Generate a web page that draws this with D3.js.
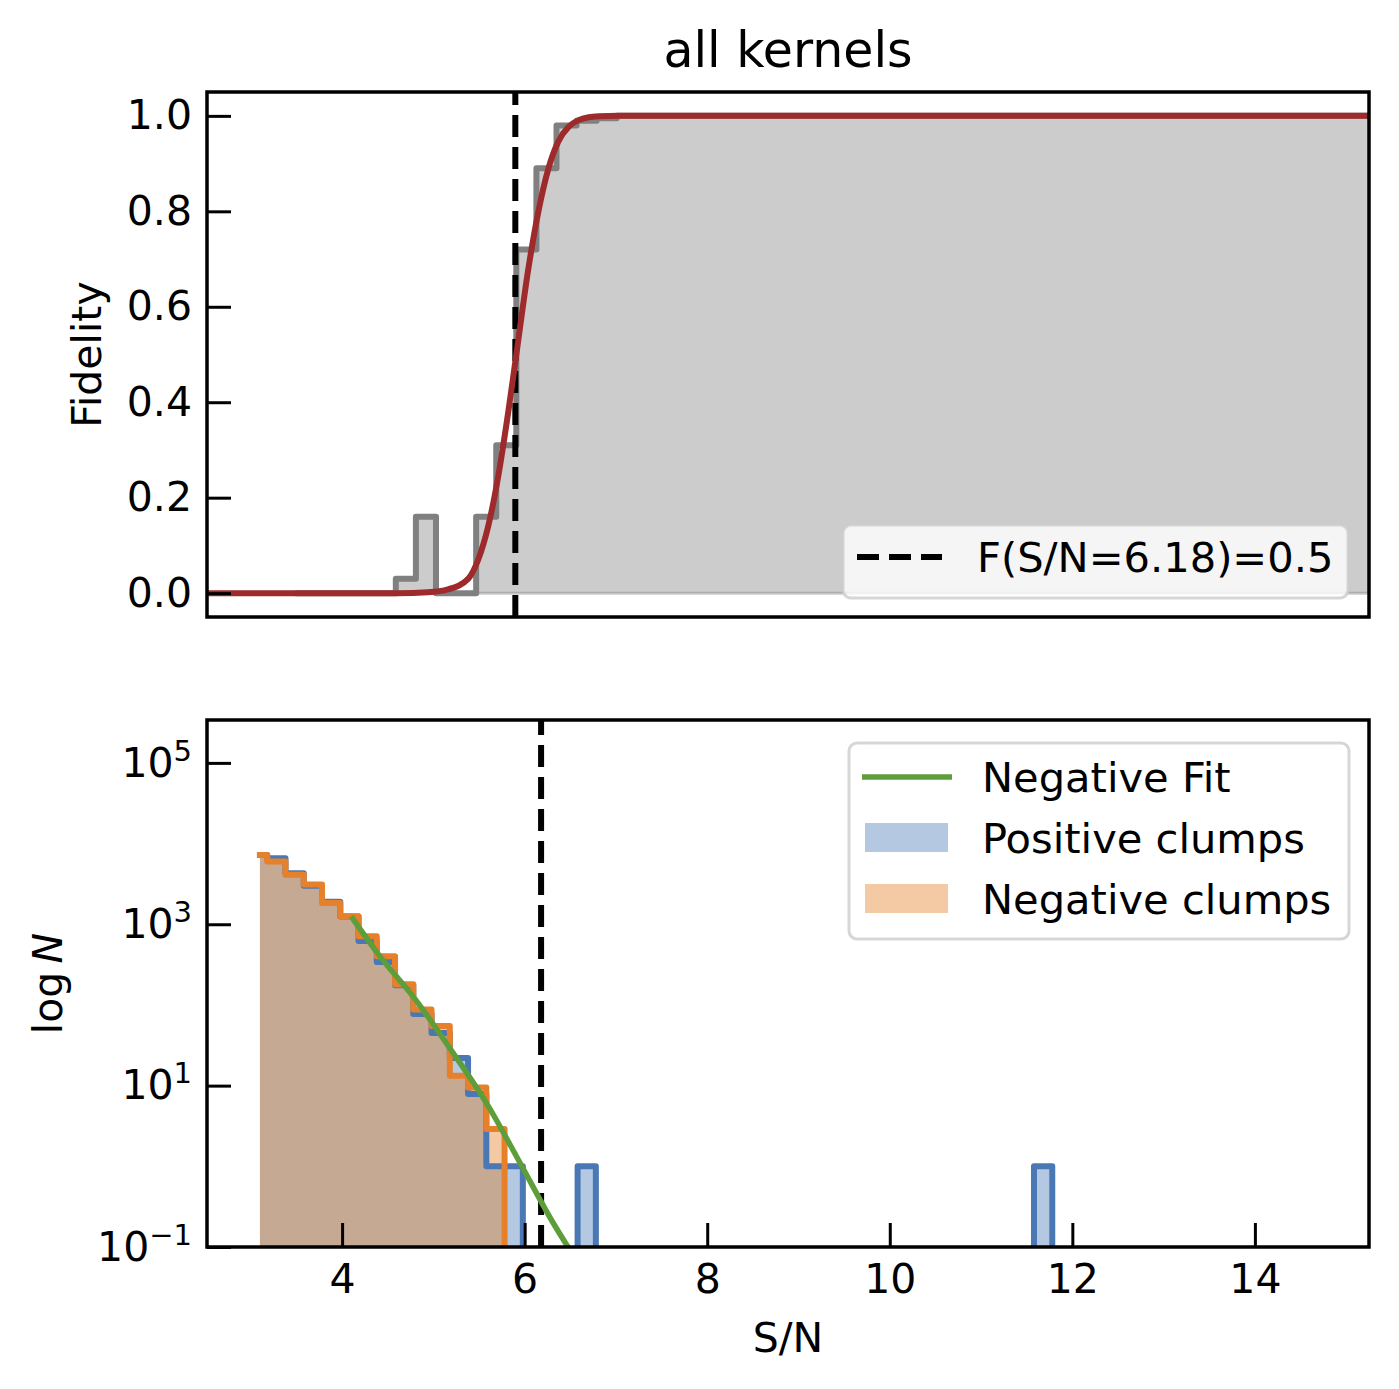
<!DOCTYPE html>
<html>
<head>
<meta charset="utf-8">
<script src="https://cdn.jsdelivr.net/npm/d3@7"></script>
<style>
  body { margin: 0; background: #fff; }
  text { font-family: "DejaVu Sans", sans-serif; fill: #000; }
</style>
</head>
<body>
<svg id="fig" width="1399" height="1389"></svg>
<script>
// top panel: fidelity per S/N bin (edges + values)
const fidEdges  = [3.98, 4.98, 5.18, 5.38, 5.78, 5.98, 6.18, 6.38, 6.58, 6.78, 6.98, 7.18, 14.78];
const fidValues = [0, 0.03, 0.16, 0, 0.16, 0.31, 0.72, 0.89, 0.98, 0.99, 0.995, 1.0];

// fitted fidelity curve
const fitSN = [3.1, 5.0, 5.3, 5.5, 5.7, 5.8, 5.9, 6.0, 6.1, 6.18, 6.3, 6.4, 6.5, 6.6, 6.7, 6.8, 6.9, 7.0, 7.2, 14.67];
const fitF  = [0, 0, 0.002, 0.008, 0.03, 0.07, 0.14, 0.245, 0.38, 0.5, 0.68, 0.80, 0.89, 0.947, 0.977, 0.991, 0.997, 0.999, 1.0, 1.0];

const snThreshold = 6.18;
const fidLabel = "F(S/N=6.18)=0.5";

// bottom panel: clump counts per S/N bin
const snEdges   = [3.10, 3.18, 3.38, 3.58, 3.78, 3.98, 4.18, 4.38, 4.58, 4.78, 4.98, 5.18, 5.38, 5.58, 5.78, 5.98];
const posCounts = [7200, 6600, 4300, 3000, 1900, 1250, 620, 340, 175, 77, 45, 22, 7.9, 1, 1];
const negCounts = [7200, 6000, 4100, 3100, 1830, 1260, 710, 400, 180, 88, 55, 13.3, 9.5, 2.9, 0];
// lone positive bins further out
const posExtraLo = [6.58, 11.58];
const posExtraHi = [6.78, 11.78];
const posExtraCounts = [1, 1];

// negative fit line
const negFitSN = [4.1, 4.4, 4.8, 5.2, 5.6, 5.95, 6.3, 6.6];
const negFitN  = [1250, 420, 118, 27, 5.6, 1.1, 0.21, 0.06];

const yTicksTop = [0, 0.2, 0.4, 0.6, 0.8, 1.0];
const yTicksBot = [0.1, 10, 1000, 100000];
const xTicksBot = [4, 6, 8, 10, 12, 14];

const C = {
  gray: "#808080", grayFill: "rgba(128,128,128,0.4)", red: "#9e2a2b",
  blue: "#4a78b4", blueFill: "rgba(68,118,183,0.4)",
  orange: "#e6802a", orangeFill: "rgba(225,122,28,0.4)",
  green: "#5e9e3a"
};
const FS = 41;
const LFS = 41.6; // legend text

const svg = d3.select("#fig");
svg.append("rect").attr("width", 1399).attr("height", 1389).attr("fill", "#fff");

const L = 207, R = 1369;
const top1 = 92, bot1 = 617, top2 = 720, bot2 = 1247;

const xTop = d3.scaleLinear().domain([3.1, 14.67]).range([L, R]);
const yTop = d3.scaleLinear().domain([-0.05, 1.05]).range([bot1, top1]);
const xBot = d3.scaleLinear().domain([2.52, 15.25]).range([L, R]);
const yBot = d3.scaleLog().domain([0.1, 3.4e5]).range([bot2, top2]);

const defs = svg.append("defs");
defs.append("clipPath").attr("id", "clip1").append("rect")
  .attr("x", L).attr("y", top1).attr("width", R - L).attr("height", bot1 - top1);
defs.append("clipPath").attr("id", "clip2").append("rect")
  .attr("x", L).attr("y", top2).attr("width", R - L).attr("height", bot2 - top2);

/* ---------- top panel ---------- */
const g1 = svg.append("g").attr("clip-path", "url(#clip1)");

const fidPts = [[fidEdges[0], 0]];
fidValues.forEach((v, i) => { fidPts.push([fidEdges[i], v], [fidEdges[i + 1], v]); });
fidPts.push([fidEdges[fidEdges.length - 1], 0]);

const lineTop = d3.line().x(d => xTop(d[0])).y(d => yTop(d[1]));

g1.append("path").attr("d", lineTop(fidPts) + "Z")
  .attr("fill", C.grayFill).attr("stroke", "rgba(128,128,128,0.4)").attr("stroke-width", 3);
g1.append("path").attr("d", lineTop(fidPts))
  .attr("fill", "none").attr("stroke", C.gray).attr("stroke-width", 6)
  .attr("stroke-linejoin", "round");

g1.append("line")
  .attr("x1", xTop(snThreshold) - 1).attr("x2", xTop(snThreshold) - 1)
  .attr("y1", bot1).attr("y2", top1)
  .attr("stroke", "#000").attr("stroke-width", 6).attr("stroke-dasharray", "22,10");

g1.append("path")
  .datum(fitSN.map((s, i) => [s, fitF[i]]))
  .attr("d", d3.line().x(d => xTop(d[0])).y(d => yTop(d[1])).curve(d3.curveMonotoneX))
  .attr("fill", "none").attr("stroke", C.red).attr("stroke-width", 6);

// legend (top)
const lg1 = svg.append("g");
lg1.append("rect").attr("x", 843).attr("y", 525).attr("width", 505).attr("height", 73)
  .attr("rx", 8).attr("fill", "rgba(255,255,255,0.8)")
  .attr("stroke", "rgba(204,204,204,0.8)").attr("stroke-width", 3);
lg1.append("line").attr("x1", 857).attr("x2", 942).attr("y1", 557).attr("y2", 557)
  .attr("stroke", "#000").attr("stroke-width", 6).attr("stroke-dasharray", "22,10");
lg1.append("text").attr("x", 977).attr("y", 572).attr("font-size", LFS).text(fidLabel);

// axes (top)
const axY1 = svg.append("g").attr("transform", `translate(${L},0)`)
  .call(d3.axisLeft(yTop).tickValues(yTicksTop).tickFormat(d3.format(".1f"))
    .tickSizeInner(-24).tickSizeOuter(0).tickPadding(15));
axY1.select(".domain").remove();

svg.append("rect").attr("x", L).attr("y", top1).attr("width", R - L).attr("height", bot1 - top1)
  .attr("fill", "none").attr("stroke", "#000").attr("stroke-width", 3.5);

svg.append("text").attr("transform", `translate(101,${(top1 + bot1) / 2}) rotate(-90)`)
  .attr("text-anchor", "middle").attr("font-size", FS).text("Fidelity");

svg.append("text").attr("x", (L + R) / 2).attr("y", 67).attr("text-anchor", "middle")
  .attr("font-size", 49).text("all kernels");

/* ---------- bottom panel ---------- */
const g2 = svg.append("g").attr("clip-path", "url(#clip2)");
const FLOOR = 1e-3;
const val = v => (v > 0 ? v : FLOOR);

function runPoints(edges, counts) {
  const pts = [];
  counts.forEach((c, i) => { pts.push([edges[i], val(c)], [edges[i + 1], val(c)]); });
  pts.push([edges[edges.length - 1], FLOOR]);
  return pts;
}

const posPts = runPoints(snEdges, posCounts);
posExtraCounts.forEach((c, i) => {
  posPts.push([posExtraLo[i], FLOOR], [posExtraLo[i], c], [posExtraHi[i], c], [posExtraHi[i], FLOOR]);
});
const negPts = runPoints(snEdges, negCounts);

const lineBot = d3.line().x(d => xBot(d[0])).y(d => yBot(d[1]));
const fillPath = pts => lineBot([[pts[0][0], FLOOR]].concat(pts)) + "Z";

g2.append("path").attr("d", fillPath(posPts)).attr("fill", C.blueFill);
g2.append("path").attr("d", fillPath(negPts)).attr("fill", C.orangeFill);
g2.append("path").attr("d", lineBot(posPts)).attr("fill", "none")
  .attr("stroke", C.blue).attr("stroke-width", 6).attr("stroke-linejoin", "round")
  .attr("stroke-linecap", "square");
g2.append("path").attr("d", lineBot(negPts)).attr("fill", "none")
  .attr("stroke", C.orange).attr("stroke-width", 6).attr("stroke-linejoin", "round")
  .attr("stroke-linecap", "square");

g2.append("line")
  .attr("x1", xBot(snThreshold)).attr("x2", xBot(snThreshold))
  .attr("y1", bot2).attr("y2", top2)
  .attr("stroke", "#000").attr("stroke-width", 6).attr("stroke-dasharray", "22,10");

g2.append("path")
  .datum(negFitSN.map((s, i) => [s, negFitN[i]]))
  .attr("d", d3.line().x(d => xBot(d[0])).y(d => yBot(d[1])).curve(d3.curveMonotoneX))
  .attr("fill", "none").attr("stroke", C.green).attr("stroke-width", 5.5);

// legend (bottom)
const lg2 = svg.append("g");
lg2.append("rect").attr("x", 849).attr("y", 743).attr("width", 500).attr("height", 196)
  .attr("rx", 8).attr("fill", "rgba(255,255,255,0.8)")
  .attr("stroke", "rgba(204,204,204,0.8)").attr("stroke-width", 3);
const legRows = [
  { label: "Negative Fit", type: "line", color: C.green },
  { label: "Positive clumps", type: "patch", color: C.blueFill },
  { label: "Negative clumps", type: "patch", color: C.orangeFill }
];
legRows.forEach((r, i) => {
  const cy = 777 + i * 61;
  if (r.type === "line") {
    lg2.append("line").attr("x1", 862).attr("x2", 952).attr("y1", cy).attr("y2", cy)
      .attr("stroke", r.color).attr("stroke-width", 5.5);
  } else {
    lg2.append("rect").attr("x", 865).attr("y", cy - 15).attr("width", 83).attr("height", 29)
      .attr("fill", r.color);
  }
  lg2.append("text").attr("x", 982).attr("y", cy + 15).attr("font-size", LFS).text(r.label);
});

// axes (bottom)
const axY2 = svg.append("g").attr("transform", `translate(${L},0)`)
  .call(d3.axisLeft(yBot).tickValues(yTicksBot).tickFormat(() => "")
    .tickSizeInner(-24).tickSizeOuter(0).tickPadding(15));
axY2.select(".domain").remove();
axY2.selectAll(".tick text").each(function (d) {
  const t = d3.select(this);
  const e = Math.round(Math.log10(d));
  t.append("tspan").text("10");
  t.append("tspan").attr("dy", -16).attr("font-size", 29)
    .text(e < 0 ? "\u2212" + Math.abs(e) : String(e));
});

const axX2 = svg.append("g").attr("transform", `translate(0,${bot2})`)
  .call(d3.axisBottom(xBot).tickValues(xTicksBot).tickFormat(d3.format("d"))
    .tickSizeInner(-24).tickSizeOuter(0).tickPadding(17));
axX2.select(".domain").remove();

[axY1, axY2, axX2].forEach(a => {
  a.attr("font-size", FS).attr("font-family", "DejaVu Sans");
  a.selectAll(".tick line").attr("stroke", "#000").attr("stroke-width", 3);
});

svg.append("rect").attr("x", L).attr("y", top2).attr("width", R - L).attr("height", bot2 - top2)
  .attr("fill", "none").attr("stroke", "#000").attr("stroke-width", 3.5);

const yl = svg.append("text").attr("transform", `translate(62,${(top2 + bot2) / 2}) rotate(-90)`)
  .attr("text-anchor", "middle").attr("font-size", FS);
yl.append("tspan").text("log\u2009");
yl.append("tspan").attr("font-style", "italic").text("N");

svg.append("text").attr("x", (L + R) / 2).attr("y", 1352).attr("text-anchor", "middle")
  .attr("font-size", FS).text("S/N");
</script>
</body>
</html>
